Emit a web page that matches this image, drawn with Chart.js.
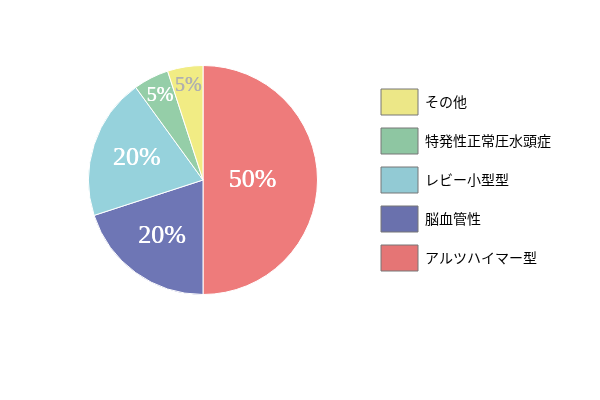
<!DOCTYPE html>
<html>
<head>
<meta charset="utf-8">
<script src="https://cdn.jsdelivr.net/npm/chart.js@4"></script>
<style>
  html, body { margin: 0; padding: 0; background: #fff; }
  #wrap { width: 600px; height: 400px; }
</style>
</head>
<body>
<div id="wrap"><canvas id="pie"></canvas></div>
<script>
const labels = ['アルツハイマー型', '脳血管性', 'レビー小型型', '特発性正常圧水頭症', 'その他'];
const values = [50, 20, 20, 5, 5];
const sliceColors = ['#ee7b7b', '#6e76b5', '#96d2dc', '#95cea8', '#f1ec84'];
const legendColors = ['#e57575', '#6a71ad', '#92cad4', '#8ec6a2', '#ece787'];
const textColors = ['#fff', '#fff', '#fff', '#fff', '#b0b0b0'];

// draws the percent text inside each slice
const sliceLabels = {
  id: 'sliceLabels',
  afterDatasetsDraw(chart) {
    const ctx = chart.ctx;
    const meta = chart.getDatasetMeta(0);
    const total = values.reduce((a, b) => a + b, 0);
    meta.data.forEach((arc, i) => {
      const share = values[i] / total;
      const frac = share >= 0.5 ? 0.43 : share >= 0.2 ? 0.61 : 0.83;
      const mid = (arc.startAngle + arc.endAngle) / 2;
      const r = arc.outerRadius * frac;
      const x = arc.x + Math.cos(mid) * r;
      const y = arc.y + Math.sin(mid) * r;
      const txt = Math.round(share * 100) + '%';
      ctx.save();
      ctx.font = 'normal normal 400 ' + (share >= 0.2 ? 26 : 20) + 'px "Liberation Serif", serif';
      ctx.fillStyle = textColors[i];
      ctx.textAlign = 'center';
      ctx.textBaseline = 'middle';
      // slight offset copy to thicken the strokes
      ctx.fillText(txt, x, y);
      ctx.fillText(txt, x + 0.5, y);
      ctx.restore();
    });
  }
};

new Chart(document.getElementById('pie'), {
  type: 'pie',
  data: {
    labels: labels,
    datasets: [{
      data: values,
      backgroundColor: sliceColors,
      borderColor: '#fff',
      borderWidth: 1
    }]
  },
  options: {
    responsive: true,
    maintainAspectRatio: false,
    animation: false,
    layout: { padding: { top: 65, bottom: 105, left: 38, right: 39 } },
    plugins: {
      tooltip: { enabled: false },
      legend: {
        position: 'right',
        reverse: true,
        labels: {
          boxWidth: 37,
          boxHeight: 26,
          padding: 13,
          color: '#333',
          font: { family: '"Noto Sans CJK JP", sans-serif', size: 14 },
          generateLabels(chart) {
            return labels.map((l, i) => ({
              text: l,
              fillStyle: legendColors[i],
              strokeStyle: '#777',
              lineWidth: 1,
              index: i,
              hidden: false
            }));
          }
        }
      }
    }
  },
  plugins: [sliceLabels]
});
</script>
</body>
</html>
